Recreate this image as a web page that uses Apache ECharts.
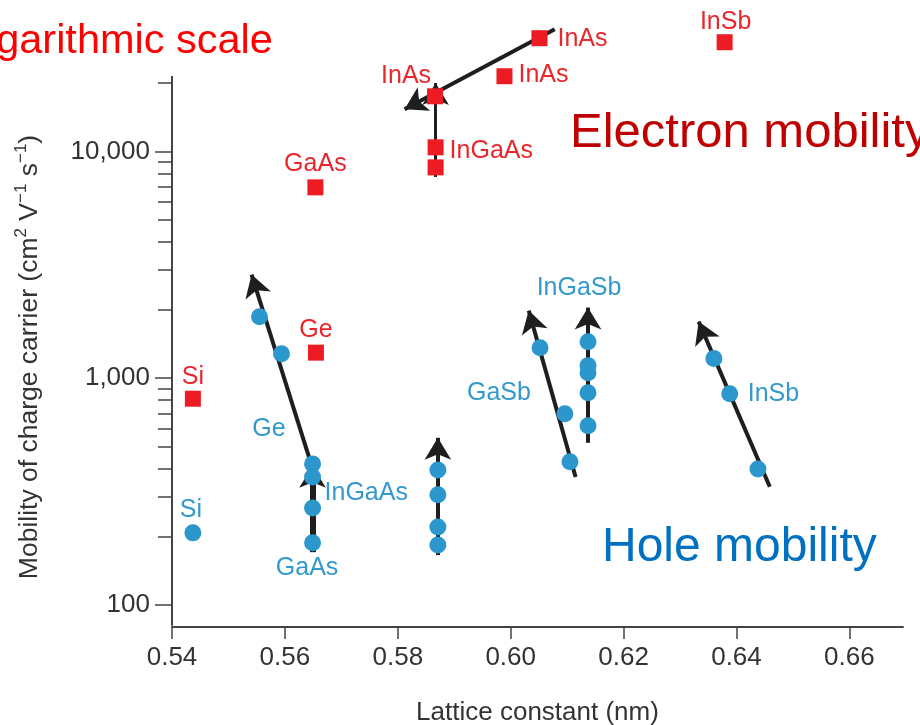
<!DOCTYPE html>
<html><head><meta charset="utf-8">
<script src="https://cdn.jsdelivr.net/npm/echarts@6/dist/echarts.min.js"></script>
<style>html,body{margin:0;padding:0;background:#fff;overflow:hidden}#c{width:920px;height:725px}</style>
</head><body><div id="c"></div>
<script>
// ---------- data ----------
const xTicks = [0.54, 0.56, 0.58, 0.60, 0.62, 0.64, 0.66];
const yMajorTicks = [100, 1000, 10000];
const yMinorTicks = [200, 300, 400, 500, 600, 700, 800, 900, 2000, 3000, 4000, 5000, 6000, 7000, 8000, 9000, 20000];

const electronNames    = ['Si', 'Ge', 'GaAs', 'InGaAs', '', 'InAs', 'InAs', 'InAs', 'InSb'];
const electronLattice  = [0.5437, 0.5655, 0.5654, 0.5867, 0.5867, 0.5866, 0.5989, 0.6051, 0.6379];
const electronMobility = [812, 1296, 6940, 10420, 8500, 17490, 21440, 31540, 30280];

const holeNames    = ['Si', '', 'Ge', '', '', 'InGaAs', 'GaAs', '', '', '', '', '', 'GaSb', '', 'InGaSb', '', '', '', '', '', 'InSb', ''];
const holeLattice  = [0.5437, 0.5555, 0.5594, 0.5649, 0.5649, 0.5649, 0.5649, 0.5871, 0.5871, 0.5871, 0.5871,
                      0.6052, 0.6096, 0.6105, 0.6137, 0.6137, 0.6137, 0.6137, 0.6137, 0.6360, 0.6388, 0.6438];
const holeMobility = [208, 1868, 1283, 419, 367, 268, 188, 394, 306, 221, 184,
                      1363, 697, 428, 1449, 1136, 1057, 863, 617, 1220, 854, 398];

// trend arrows: [fromLattice, fromMobility, toLattice, toMobility]
const electronArrows = [[0.6078, 34560, 0.5812, 15320], [0.5867, 7713, 0.5867, 20000]];
const holeArrows = [
  [0.5649, 400, 0.5541, 2864],
  [0.5649, 171, 0.5649, 411],
  [0.5871, 166, 0.5871, 546],
  [0.6115, 367, 0.6032, 1986],
  [0.6137, 519, 0.6137, 2048],
  [0.6459, 332, 0.6333, 1776]
];

// ---------- styles ----------
const FONT = "'Liberation Sans', Arial, Helvetica, sans-serif";
const RED = '#ed1c24', RED_TXT = '#e8262c', BLUE = '#2b97cd', BLUE_TXT = '#3399cc';
const eLabelPlace = {0:[0,-22,'center'],1:[0,-23,'center'],2:[0,-23,'center'],3:[14,4,'left'],5:[-29,-20,'center'],6:[14,-1,'left'],7:[18,1,'left'],8:[1,-20,'center']};
const hLabelPlace = {0:[-2,-23,'center'],2:[-12.5,75,'center'],5:[12,-15,'left'],6:[-5.5,25,'center'],12:[-34,-21,'right'],14:[-9,-54,'center'],20:[18,0,'left']};
const eArrowWidth = [4, 3];
const hArrowWidth = [4, 6, 4, 4, 4, 4];

function points(names, xs, ys, place, color) {
  return xs.map((x, i) => {
    const item = { value: [x, ys[i]], name: names[i] };
    const p = place[i];
    if (names[i] && p) {
      item.label = { show: true, position: 'inside', offset: [p[0], p[1]], align: p[2], verticalAlign: 'middle',
        formatter: '{b}', color: color, fontSize: 25, fontFamily: FONT };
    }
    return item;
  });
}
function arrows(list, widths) {
  return list.map((a, i) => [
    { coord: [a[0], a[1]], symbol: 'none' },
    { coord: [a[2], a[3]], symbol: 'arrow', symbolSize: [20, 22],
      lineStyle: { width: widths[i], color: '#1e1e1e' } }
  ]);
}

const chart = echarts.init(document.getElementById('c'), null, { renderer: 'canvas' });
const axisColor = '#444';
chart.setOption({
  animation: false,
  backgroundColor: '#fff',
  grid: { left: 172, right: 17, top: 10, bottom: 98, containLabel: false, outerBoundsMode: 'none' },
  xAxis: {
    type: 'value', min: 0.54, max: 0.6695,
    name: 'Lattice constant (nm)', nameLocation: 'middle', nameGap: 73,
    nameTextStyle: { fontSize: 26, fontFamily: FONT, color: '#333' },
    axisLine: { show: true, onZero: false, lineStyle: { color: axisColor, width: 2 } },
    axisTick: { show: true, length: 12, customValues: xTicks, lineStyle: { color: axisColor, width: 1.5 } },
    axisLabel: { customValues: xTicks, formatter: v => v.toFixed(2), margin: 18, fontSize: 26, fontFamily: FONT, color: '#333' },
    splitLine: { show: false }
  },
  yAxis: [{
    type: 'log', logBase: 10, min: 80, max: 42000,
    axisLine: { show: false },
    axisTick: { show: true, length: 17, customValues: yMajorTicks, lineStyle: { color: axisColor, width: 1.5 } },
    axisLabel: { customValues: yMajorTicks, formatter: v => String(Math.round(v)).replace(/\B(?=(\d{3})+(?!\d))/g, ','),
      margin: 22, fontSize: 26, fontFamily: FONT, color: '#333' },
    splitLine: { show: false }
  }, {
    type: 'log', logBase: 10, min: 80, max: 42000, position: 'left',
    axisLine: { show: false },
    axisTick: { show: true, length: 14, customValues: yMinorTicks, lineStyle: { color: axisColor, width: 1.5 } },
    axisLabel: { show: false },
    splitLine: { show: false }
  }],
  series: [
    {
      type: 'scatter', name: 'trend', data: [], z: 1, silent: true,
      markLine: {
        z: 1, silent: true, animation: false, label: { show: false },
        symbol: ['none', 'arrow'],
        lineStyle: { type: 'solid', color: '#1e1e1e', width: 4 },
        emphasis: { disabled: true },
        data: [
          [{ coord: [0.54, 81], symbol: 'none' }, { coord: [0.54, 21500], symbol: 'none', lineStyle: { color: axisColor, width: 2 } }]
        ].concat(arrows(electronArrows, eArrowWidth), arrows(holeArrows, hArrowWidth))
      }
    },
    {
      type: 'scatter', name: 'Electron mobility', z: 3, symbol: 'rect', symbolSize: 16,
      itemStyle: { color: RED, opacity: 1 },
      data: points(electronNames, electronLattice, electronMobility, eLabelPlace, RED_TXT)
    },
    {
      type: 'scatter', name: 'Hole mobility', z: 3, symbol: 'circle', symbolSize: 17,
      itemStyle: { color: BLUE, opacity: 1 },
      data: points(holeNames, holeLattice, holeMobility, hLabelPlace, BLUE_TXT)
    }
  ],
  graphic: [
    { type: 'text', x: -50, y: 42, silent: true,
      style: { text: 'Logarithmic scale', font: '41.5px ' + FONT, fill: '#ff0000', align: 'left', verticalAlign: 'middle' } },
    { type: 'text', x: 570, y: 133, silent: true,
      style: { text: 'Electron mobility', font: '49px ' + FONT, fill: '#c00000', align: 'left', verticalAlign: 'middle' } },
    { type: 'text', x: 602, y: 548, silent: true,
      style: { text: 'Hole mobility', font: '48px ' + FONT, fill: '#0070c0', align: 'left', verticalAlign: 'middle' } },
    { type: 'text', x: 30, y: 357, rotation: Math.PI / 2, silent: true,
      style: {
        text: '{n|Mobility of charge carrier (cm}{s|2}{n| V}{s|−1}{n| s}{s|−1}{n|)}',
        align: 'center', verticalAlign: 'middle',
        rich: {
          n: { fontSize: 26.5, fontFamily: FONT, fill: '#333', lineHeight: 34 },
          s: { fontSize: 17, fontFamily: FONT, fill: '#333', verticalAlign: 'top' }
        }
      } }
  ]
});
</script></body></html>
